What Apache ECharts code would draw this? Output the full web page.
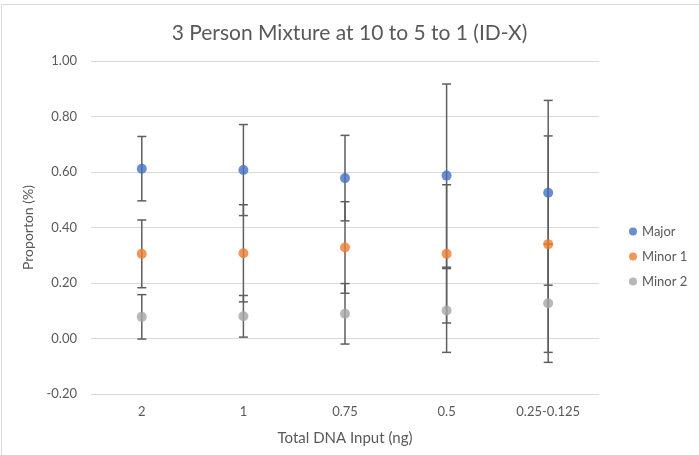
<!DOCTYPE html>
<html>
<head>
<meta charset="utf-8">
<script src="https://cdn.jsdelivr.net/npm/echarts@6/dist/echarts.min.js"></script>
<style>
  html, body { margin: 0; padding: 0; background: #fff; }
  #chart { width: 699px; height: 455px; }
</style>
</head>
<body>
<div id="chart"></div>
<script>
const categories = ['2', '1', '0.75', '0.5', '0.25-0.125']

const majorMean = [0.612, 0.607, 0.578, 0.587, 0.525]
const majorErr = [0.116, 0.164, 0.154, 0.330, 0.333]
const minor1Mean = [0.305, 0.307, 0.328, 0.305, 0.340]
const minor1Err = [0.122, 0.175, 0.165, 0.249, 0.390]
const minor2Mean = [0.078, 0.080, 0.089, 0.101, 0.127]
const minor2Err = [0.080, 0.075, 0.109, 0.151, 0.213]

const yTicks = [-0.2, 0, 0.2, 0.4, 0.6, 0.8, 1.0]

const textColor = '#595959'
const font = 'Lato, "Open Sans", sans-serif'

const chart = echarts.init(document.getElementById('chart'))

// error bars: one custom series per group, data = [catIndex, mean, err]
function errorSeries(name, means, errs) {
  return {
    type: 'custom',
    name: name + ' err',
    z: 1,
    silent: true,
    data: means.map((m, i) => [i, m, errs[i]]),
    encode: { x: 0, y: 1 },
    renderItem: (params, api) => {
      const i = api.value(0)
      const m = api.value(1)
      const e = api.value(2)
      const hi = api.coord([i, m + e])
      const lo = api.coord([i, m - e])
      const w = 4.5
      const style = { stroke: '#5e5e5e', lineWidth: 1.5 }
      return {
        type: 'group',
        children: [
          { type: 'line', shape: { x1: hi[0], y1: hi[1], x2: lo[0], y2: lo[1] }, style },
          { type: 'line', shape: { x1: hi[0] - w, y1: hi[1], x2: hi[0] + w, y2: hi[1] }, style },
          { type: 'line', shape: { x1: lo[0] - w, y1: lo[1], x2: lo[0] + w, y2: lo[1] }, style },
        ],
      }
    },
  }
}

function pointSeries(name, means, color) {
  return {
    type: 'scatter',
    name,
    z: 3,
    symbol: 'circle',
    symbolSize: 10,
    itemStyle: { color },
    data: means,
  }
}

chart.setOption({
  backgroundColor: '#fff',
  animation: false,
  title: {
    text: '3 Person Mixture at 10 to 5 to 1 (ID-X)',
    left: 'center',
    top: 18,
    textStyle: { color: textColor, fontSize: 21, fontWeight: 'normal', fontFamily: font },
  },
  legend: {
    orient: 'vertical',
    left: 624,
    top: 220,
    itemGap: 12,
    itemWidth: 8,
    itemHeight: 8,
    icon: 'circle',
    data: ['Major', 'Minor 1', 'Minor 2'],
    textStyle: { color: textColor, fontSize: 13, fontFamily: font },
  },
  grid: { left: 91, right: 100, top: 61, bottom: 61 },
  xAxis: {
    type: 'category',
    data: categories,
    boundaryGap: true,
    name: 'Total DNA Input (ng)',
    nameLocation: 'middle',
    nameGap: 37,
    nameTextStyle: { color: textColor, fontSize: 15, fontFamily: font },
    axisLine: { show: false },
    axisTick: { show: false },
    axisLabel: { color: textColor, fontSize: 13, fontFamily: font, margin: 11 },
  },
  yAxis: {
    type: 'value',
    min: yTicks[0],
    max: yTicks[yTicks.length - 1],
    interval: 0.2,
    name: 'Proporton (%)',
    nameLocation: 'middle',
    nameGap: 55,
    nameTextStyle: { color: textColor, fontSize: 14, fontFamily: font },
    axisLine: { show: false },
    axisTick: { show: false },
    axisLabel: {
      color: textColor,
      fontSize: 13,
      fontFamily: font,
      margin: 14,
      formatter: (v) => v.toFixed(2),
    },
    splitLine: { lineStyle: { color: '#d9d9d9', width: 1 } },
  },
  graphic: [
    {
      type: 'rect',
      shape: { x: 1.5, y: 4.5, width: 720, height: 460 },
      style: { fill: 'none', stroke: '#d9d9d9', lineWidth: 1 },
      silent: true,
    },
  ],
  series: [
    errorSeries('Major', majorMean, majorErr),
    errorSeries('Minor 1', minor1Mean, minor1Err),
    errorSeries('Minor 2', minor2Mean, minor2Err),
    pointSeries('Major', majorMean, '#4472c4'),
    pointSeries('Minor 1', minor1Mean, '#ed7d31'),
    pointSeries('Minor 2', minor2Mean, '#a5a5a5'),
  ],
})
</script>
</body>
</html>
